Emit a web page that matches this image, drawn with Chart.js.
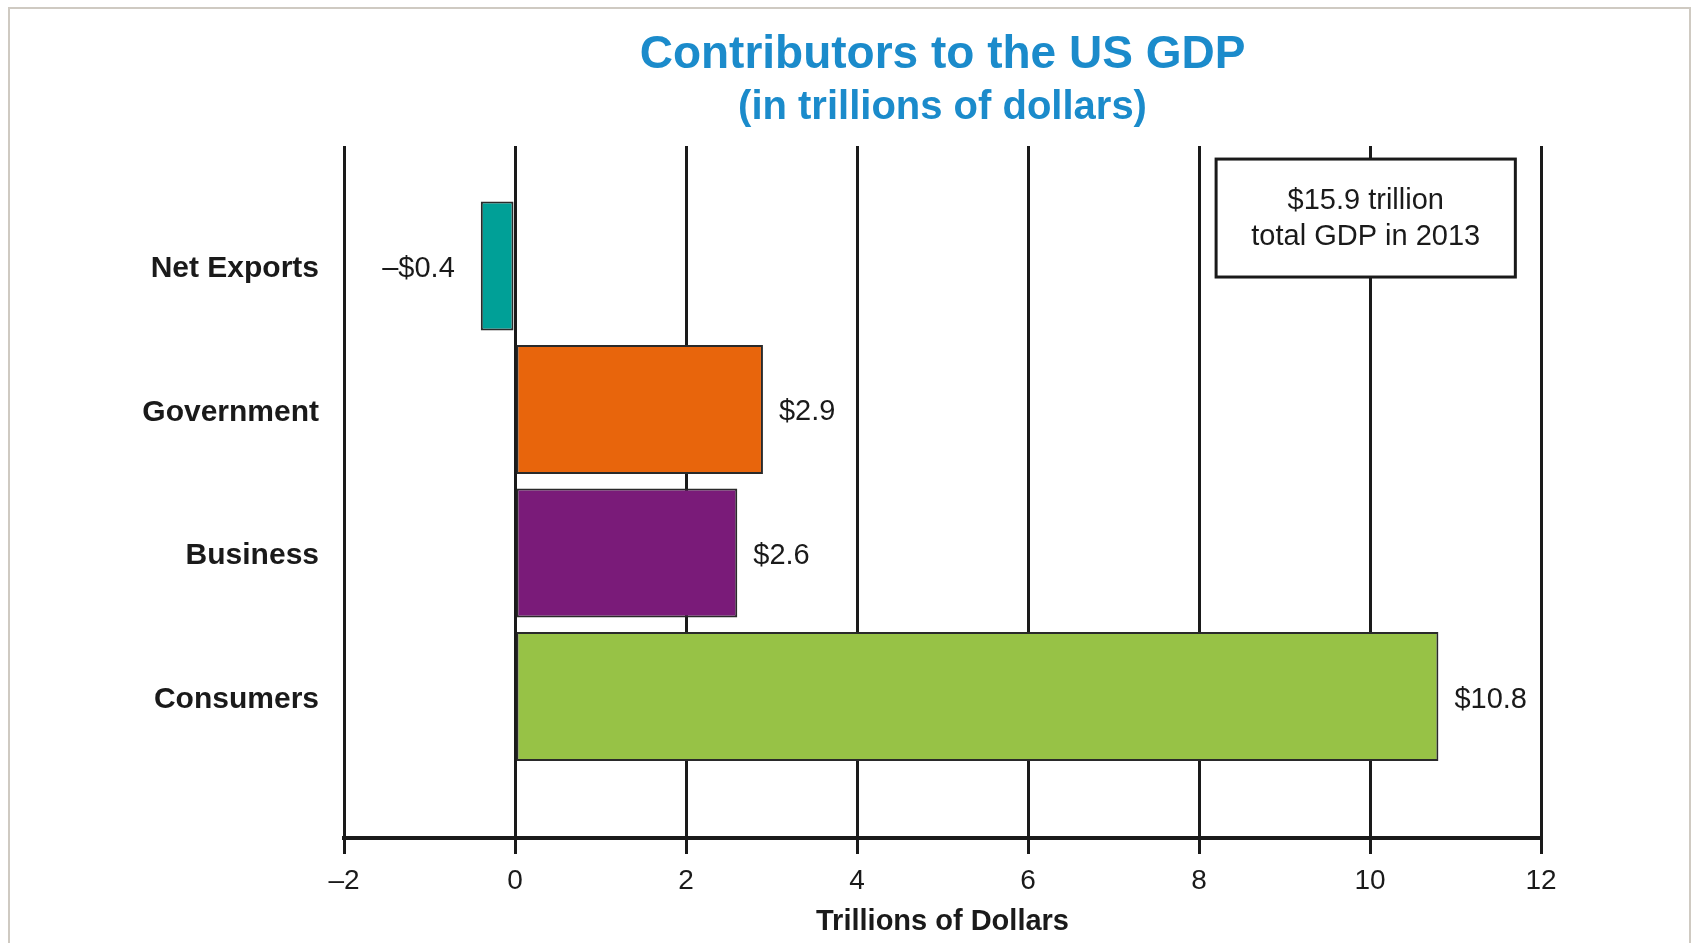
<!DOCTYPE html>
<html>
<head>
<meta charset="utf-8">
<script src="https://cdn.jsdelivr.net/npm/chart.js@4.4.1/dist/chart.umd.min.js"></script>
<style>
  html, body { margin: 0; padding: 0; background: #ffffff; overflow: hidden; }
  #frame { position: absolute; left: 8px; top: 7px; width: 1683px; height: 1000px; border: 2px solid #cfcac2; box-sizing: border-box; }
  #wrap { position: absolute; left: 0; top: 0; width: 1696px; height: 943px; }
</style>
</head>
<body>
<div id="frame"></div>
<div id="wrap"><canvas id="c" width="1696" height="943"></canvas></div>
<script>
// ---- data ----
const categories = ['Net Exports', 'Government', 'Business', 'Consumers'];
const values = [-0.4, 2.9, 2.6, 10.8];
const valueLabels = ['\u2013$0.4', '$2.9', '$2.6', '$10.8'];
const barColors = ['#00a097', '#e8650c', '#7a1b79', '#97c246'];
const xTickValues = [-2, 0, 2, 4, 6, 8, 10, 12];
const xTickLabels = ['\u20132', '0', '2', '4', '6', '8', '10', '12'];
const titleLines = ['Contributors to the US GDP', '(in trillions of dollars)'];
const axisTitle = 'Trillions of Dollars';
const noteLines = ['$15.9 trillion', 'total GDP in 2013'];
const noteRange = { xMin: 8.2, xMax: 11.7, yMin: -0.745, yMax: 0.077 };

const FONT = '"Liberation Sans", Arial, Helvetica, sans-serif';
const INK = '#1a1a1a';

const overlay = {
  id: 'overlay',
  afterDatasetsDraw(chart) {
    const { ctx, chartArea, scales: { x, y } } = chart;
    ctx.save();
    // value labels
    const meta = chart.getDatasetMeta(0);
    ctx.font = '29px ' + FONT;
    ctx.fillStyle = INK;
    ctx.textBaseline = 'middle';
    meta.data.forEach((bar, i) => {
      if (values[i] >= 0) {
        ctx.textAlign = 'left';
        ctx.fillText(valueLabels[i], bar.x + 16, bar.y + 3);
      } else {
        ctx.textAlign = 'right';
        ctx.fillText(valueLabels[i], bar.x - 26, bar.y + 3);
      }
    });
    // note box
    const bx0 = x.getPixelForValue(noteRange.xMin);
    const bx1 = x.getPixelForValue(noteRange.xMax);
    const by0 = y.getPixelForValue(noteRange.yMin);
    const by1 = y.getPixelForValue(noteRange.yMax);
    ctx.fillStyle = '#ffffff';
    ctx.fillRect(bx0, by0, bx1 - bx0, by1 - by0);
    ctx.lineWidth = 3;
    ctx.strokeStyle = INK;
    ctx.strokeRect(bx0, by0, bx1 - bx0, by1 - by0);
    ctx.fillStyle = INK;
    ctx.font = '29px ' + FONT;
    ctx.textAlign = 'center';
    const cx = (bx0 + bx1) / 2, cy = (by0 + by1) / 2;
    ctx.fillText(noteLines[0], cx, cy - 17);
    ctx.fillText(noteLines[1], cx, cy + 19);
    // titles
    const tx = (chartArea.left + chartArea.right) / 2;
    ctx.fillStyle = '#1b8bcb';
    ctx.font = 'bold 46px ' + FONT;
    ctx.fillText(titleLines[0], tx, chartArea.top - 91);
    ctx.font = 'bold 40px ' + FONT;
    ctx.fillText(titleLines[1], tx, chartArea.top - 38);
    ctx.restore();
  }
};

new Chart(document.getElementById('c'), {
  type: 'bar',
  data: {
    datasets: [{
      data: values.map((v, i) => ({ x: v, y: i })),
      backgroundColor: barColors,
      borderColor: '#2a2a2a',
      borderWidth: 2,
      borderSkipped: false,
      categoryPercentage: 1.0,
      barPercentage: 0.9
    }]
  },
  options: {
    indexAxis: 'y',
    responsive: false,
    animation: false,
    events: [],
    layout: { padding: { left: 0, right: 155, top: 146, bottom: 0 } },
    plugins: { legend: { display: false }, tooltip: { enabled: false }, title: { display: false } },
    scales: {
      x: {
        type: 'linear',
        position: 'bottom',
        min: -2, max: 12,
        afterBuildTicks: (s) => { s.ticks = xTickValues.map(v => ({ value: v })); },
        ticks: {
          callback: (v) => xTickLabels[xTickValues.indexOf(v)],
          font: { family: FONT, size: 28 },
          color: INK,
          padding: 10,
          maxRotation: 0
        },
        grid: { color: INK, lineWidth: 3, drawTicks: true, tickLength: 16, tickColor: INK, tickWidth: 3 },
        border: { display: true, color: INK, width: 4 },
        title: { display: true, text: axisTitle, color: INK, font: { family: FONT, size: 29, weight: 'bold' }, padding: { top: 4, bottom: 4 } },
        afterFit: (s) => { s.height = 105; }
      },
      y: {
        type: 'linear',
        reverse: true,
        offset: false,
        min: -0.836, max: 3.986,
        ticks: {
          stepSize: 1,
          includeBounds: false,
          callback: (v) => Number.isInteger(v) && categories[v] !== undefined ? categories[v] : '',
          font: { family: FONT, size: 30, weight: 'bold' },
          color: INK,
          padding: 25,
          labelOffset: 3
        },
        grid: { display: false, drawTicks: false, offset: false },
        border: { display: false },
        afterFit: (s) => { s.width = 344; }
      }
    }
  },
  plugins: [overlay]
});
</script>
</body>
</html>
